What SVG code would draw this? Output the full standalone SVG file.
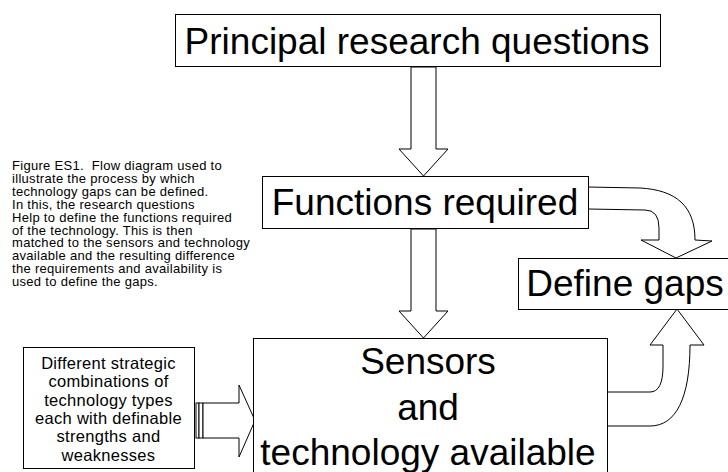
<svg xmlns="http://www.w3.org/2000/svg" width="728" height="472" viewBox="0 0 728 472">
  <style>
    .box { fill: #ffffff; stroke: #000000; stroke-width: 1; }
    .big { font-family: "Liberation Sans", Arial, sans-serif; font-size: 37px; fill: #000000; text-anchor: middle; }
    .small { font-family: "Liberation Sans", Arial, sans-serif; font-size: 16.5px; letter-spacing: 0.3px; fill: #000000; text-anchor: middle; }
    .caption { font-family: "Liberation Sans", Arial, sans-serif; font-size: 13px; letter-spacing: 0.3px; fill: #000000; white-space: pre; }
    .arrow { fill: #ffffff; stroke: #000000; stroke-width: 1; stroke-linejoin: miter; }
  </style>
  <rect width="728" height="472" fill="#ffffff"/>

  <!-- explanatory caption -->
  <text class="caption" x="12" y="170">
    <tspan x="12" y="170">Figure ES1.  Flow diagram used to</tspan>
    <tspan x="12" y="182.9">illustrate the process by which</tspan>
    <tspan x="12" y="195.8">technology gaps can be defined.</tspan>
    <tspan x="12" y="208.7">In this, the research questions</tspan>
    <tspan x="12" y="221.6">Help to define the functions required</tspan>
    <tspan x="12" y="234.5">of the technology. This is then</tspan>
    <tspan x="12" y="247.4">matched to the sensors and technology</tspan>
    <tspan x="12" y="260.3">available and the resulting difference</tspan>
    <tspan x="12" y="273.2">the requirements and availability is</tspan>
    <tspan x="12" y="286.1">used to define the gaps.</tspan>
  </text>

  <!-- block arrows -->
  <g id="connectors">
    <!-- questions -> functions -->
    <path class="arrow" d="M411,67 L436,67 L436,149 L448,149 L423.5,176 L399,149 L411,149 Z"/>
    <!-- functions -> sensors -->
    <path class="arrow" d="M411,229 L436,229 L436,311 L448,311 L423.5,338 L399,311 L411,311 Z"/>
    <!-- functions -> gaps (curved) -->
    <path class="arrow" d="M588,187 L640,188 C676,190 695,206 695,240 L712,241 L676,258 L641,240 L659,240 L659,228 Q659,210 645,210 L588,209 Z"/>
    <!-- sensors -> gaps (curved) -->
    <path class="arrow" d="M607,426 L650,426 C676,426 690,398 690,345 L704,345 L677,309 L650,345 L663,345 L663,366 Q663,392 650,392 L607,392 Z"/>
    <!-- strategies -> sensors (striped tail) -->
    <rect class="arrow" x="196" y="403" width="3" height="35"/>
    <rect class="arrow" x="199" y="403" width="4" height="35"/>
    <path class="arrow" d="M203,403 L239,403 L239,385 L255,420.5 L239,457 L239,438 L203,438 Z"/>
  </g>

  <g id="n-questions">
    <rect class="box" x="175.5" y="14.5" width="485" height="52"/>
    <text class="big" x="417" y="54">Principal research questions</text>
  </g>

  <g id="n-functions">
    <rect class="box" x="262.5" y="176.5" width="326" height="52"/>
    <text class="big" x="425" y="215">Functions required</text>
  </g>

  <g id="n-gaps">
    <rect class="box" x="518.5" y="258.5" width="212" height="51"/>
    <text class="big" x="625" y="296">Define gaps</text>
  </g>

  <g id="n-sensors">
    <rect class="box" x="253.5" y="338.5" width="354" height="140"/>
    <text class="big" x="428" y="374">Sensors</text>
    <text class="big" x="428" y="420">and</text>
    <text class="big" x="428" y="465">technology available</text>
  </g>

  <g id="n-strategies">
    <rect class="box" x="23.5" y="347.5" width="171" height="121"/>
    <text class="small" x="108.5" y="369">Different strategic</text>
    <text class="small" x="108.5" y="387.3">combinations of</text>
    <text class="small" x="108.5" y="405.6">technology types</text>
    <text class="small" x="108.5" y="423.9">each with definable</text>
    <text class="small" x="108.5" y="442.2">strengths and</text>
    <text class="small" x="108.5" y="460.5">weaknesses</text>
  </g>
</svg>
